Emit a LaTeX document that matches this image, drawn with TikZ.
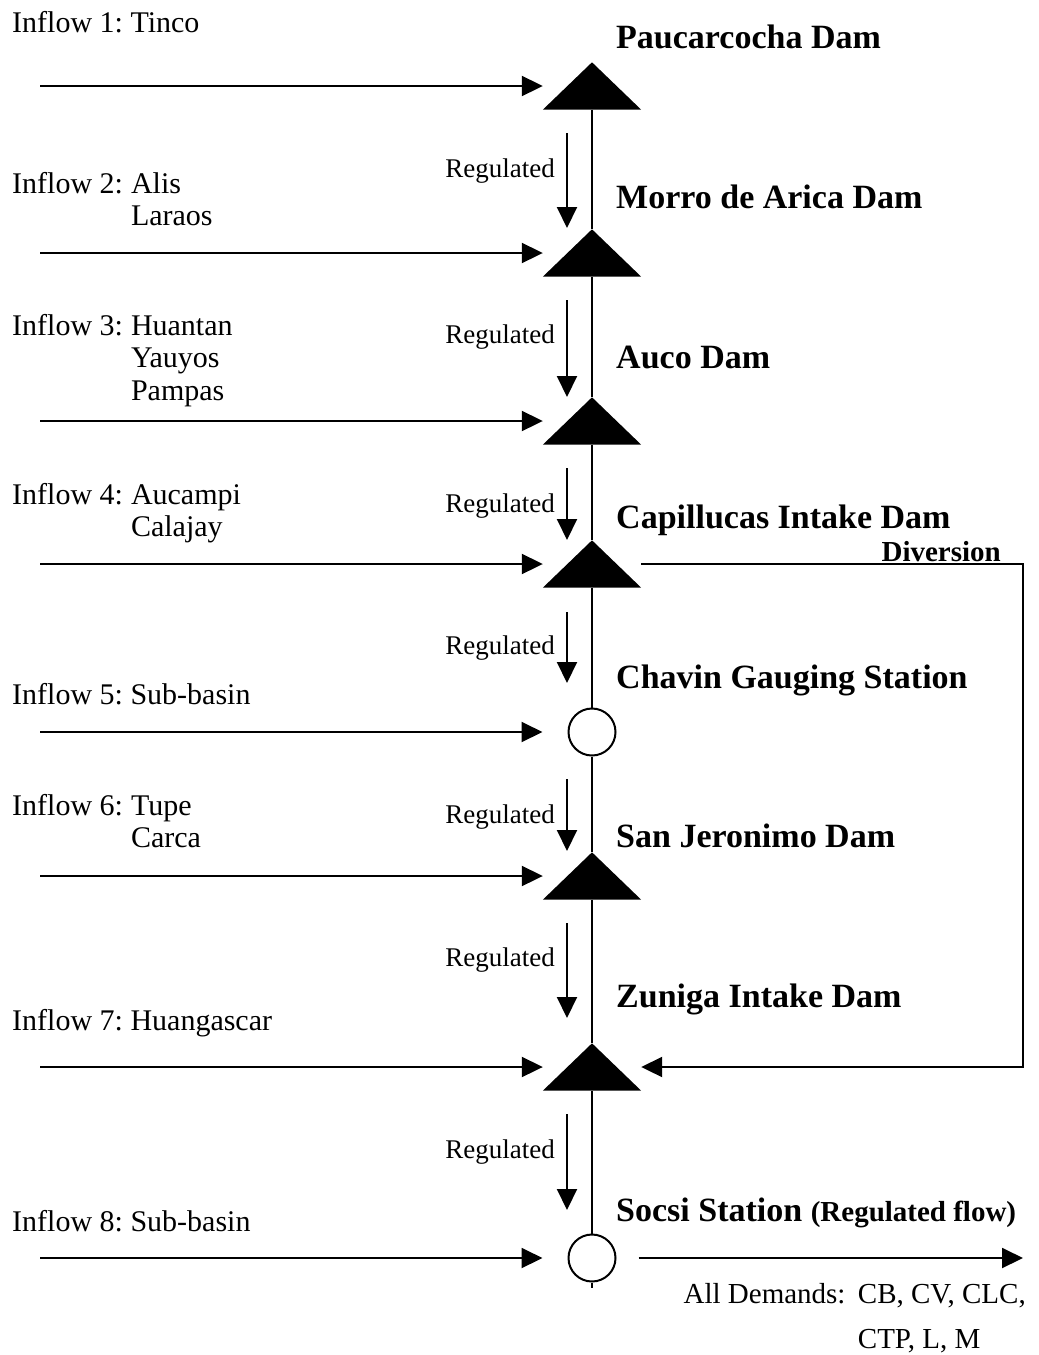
\documentclass[tikz,border=0pt]{standalone}
\usepackage{fontspec}
\setmainfont{Liberation Serif}
\usetikzlibrary{arrows.meta,calc}
\frenchspacing

\tikzset{
  flow/.style={line width=2pt, -{Triangle[length=21pt,width=20pt]}},
  river/.style={line width=2pt},
  dam/.style={rectangle, inner sep=0pt, minimum width=98pt, minimum height=47pt},
  station/.style={circle, draw, line width=2pt, fill=white, inner sep=0pt, minimum size=47pt},
  inlabel/.style={anchor=base west, inner sep=0pt, font=\fontsize{30}{32.5}\selectfont},
  demlabel/.style={anchor=base west, inner sep=0pt, font=\fontsize{29}{31}\selectfont},
  damlabel/.style={anchor=base west, inner sep=0pt, font=\bfseries\fontsize{34}{36}\selectfont},
  reglabel/.style={anchor=base east, inner sep=0pt, font=\fontsize{27}{29}\selectfont},
}
\newcommand{\inflowtab}[2]{\begin{tabular}[t]{@{}l@{\hspace{8pt}}l@{}}#1 & #2\end{tabular}}

\begin{document}
\begin{tikzpicture}[x=1pt,y=-1pt]
\useasboundingbox (0,0) rectangle (1039,1355);

% dams and gauging stations along the river
\node[dam] (d1) at (592,86) {};
\node[dam] (d2) at (592,253) {};
\node[dam] (d3) at (592,421) {};
\node[dam] (d4) at (592,564) {};
\node[station] (d5) at (592,732) {};
\node[dam] (d6) at (592,876) {};
\node[dam] (d7) at (592,1067) {};
\node[station] (d8) at (592,1258) {};
\coordinate (end) at (592,1288);

% main river
\draw[river] (d1.south) -- (d2.north) (d2.south) -- (d3.north)
  (d3.south) -- (d4.north) (d4.south) -- (d5.north)
  (d5.south) -- (d6.north) (d6.south) -- (d7.north)
  (d7.south) -- (d8.north) (d8.south) -- (end);

\foreach \d in {d1,d2,d3,d4,d6,d7}
  \fill (\d.north) -- (\d.south east) -- (\d.south west) -- cycle;

% inflows
\foreach \i/\y in {1/86,2/253,3/421,4/564,5/732,6/876,7/1067,8/1258}
  \coordinate (s\i) at (40,\y);
\foreach \i in {1,2,3,4,6,7}
  \draw[flow] (s\i) -- (d\i.west);
\draw[flow, shorten >=25pt] (s5) -- (d5.west);
\draw[flow, shorten >=25pt] (s8) -- (d8.west);

\node[inlabel] (in1) at (12,32) {Inflow 1: Tinco};
\node[inlabel] (in2) at (12,193) {\inflowtab{Inflow 2:}{Alis\\ & Laraos}};
\node[inlabel] (in3) at (12,335) {\inflowtab{Inflow 3:}{Huantan\\ & Yauyos\\ & Pampas}};
\node[inlabel] (in4) at (12,504) {\inflowtab{Inflow 4:}{Aucampi\\ & Calajay}};
\node[inlabel] (in5) at (12,704) {Inflow 5: Sub-basin};
\node[inlabel] (in6) at (12,815) {\inflowtab{Inflow 6:}{Tupe\\ & Carca}};
\node[inlabel] (in7) at (12,1030) {Inflow 7: Huangascar};
\node[inlabel] (in8) at (12,1231) {Inflow 8: Sub-basin};

% regulated releases
\foreach \i/\ya/\yb/\yl in {1/133/228/177,2/300/397/343,3/468/540/512,4/612/683/654,5/779/851/823,6/923/1018/966,7/1114/1210/1158}{
  \coordinate (ra\i) at (567,\ya);
  \coordinate (rb\i) at (567,\yb);
  \draw[flow] (ra\i) -- (rb\i);
  \node[reglabel] (reg\i) at (555,\yl) {Regulated};
}

% names
\node[damlabel] (n1) at (616,48) {Paucarcocha Dam};
\node[damlabel] (n2) at (616,208) {Morro de Arica Dam};
\node[damlabel] (n3) at (616,368) {Auco Dam};
\node[damlabel] (n4) at (616,528) {Capillucas Intake Dam};
\node[damlabel] (n5) at (616,688) {Chavin Gauging Station};
\node[damlabel] (n6) at (616,847) {San Jeronimo Dam};
\node[damlabel] (n7) at (616,1007) {Zuniga Intake Dam};
\node[damlabel] (n8) at (616,1221) {Socsi Station {\fontsize{29}{31}\selectfont (Regulated flow)}};

% diversion
\coordinate (dv1) at (1023,564);
\coordinate (dv2) at (1023,1067);
\draw[flow] (d4.east) -- (dv1) -- (dv2) -- (d7.east);
\node[anchor=base east, inner sep=0pt, font=\bfseries\fontsize{29}{31}\selectfont] (divl) at (1001,561) {Diversion};

% outflow to demands
\coordinate (out) at (1023,1258);
\draw[flow, shorten <=22pt] (d8.east) -- (out);
\node[demlabel, anchor=base east] (dm2) at (1026,1303) {CB, CV, CLC,};
\node[demlabel] (dm3) at ($(dm2.base west)+(0,45)$) {CTP, L, M};
\node[demlabel, anchor=base east] (dm1) at ($(dm2.base west)+(-12,0)$) {All Demands:};
\end{tikzpicture}
\end{document}
